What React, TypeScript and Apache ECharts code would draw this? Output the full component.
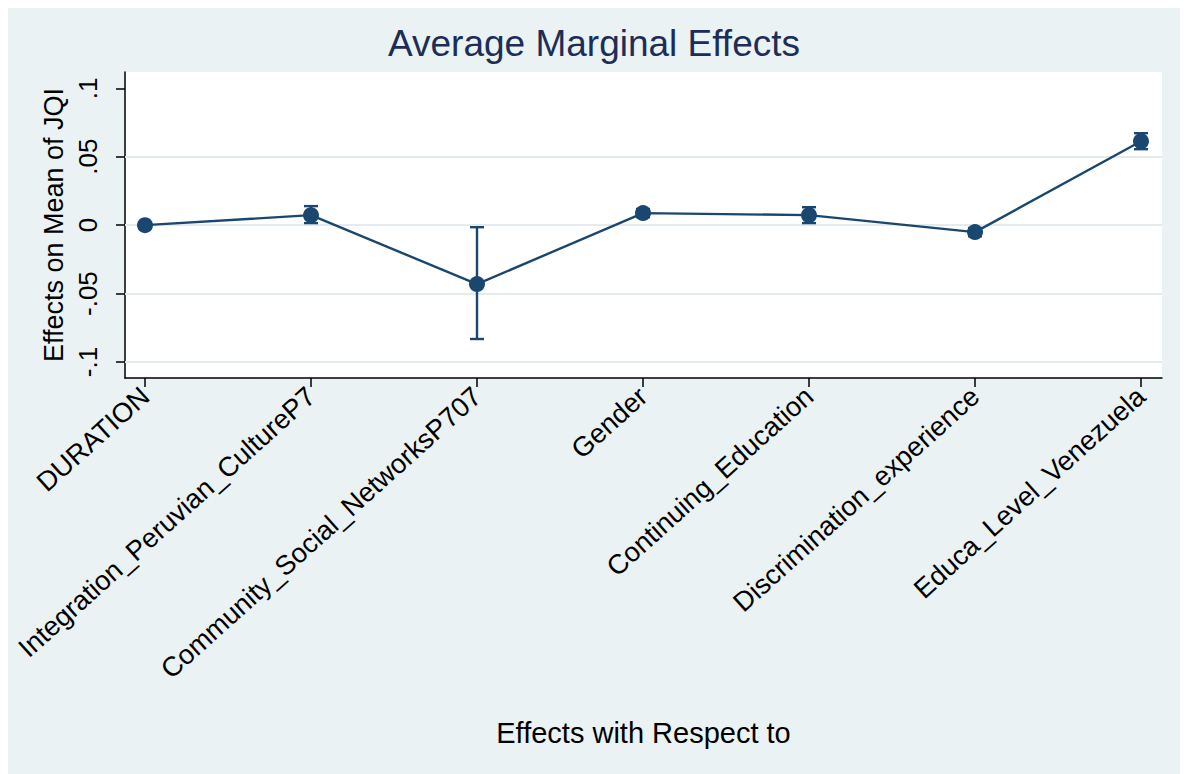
import React, { useEffect, useRef } from "react";
import * as echarts from "echarts";

const categories = [
  "DURATION",
  "Integration_Peruvian_CultureP7",
  "Community_Social_NetworksP707",
  "Gender",
  "Continuing_Education",
  "Discrimination_experience",
  "Educa_Level_Venezuela",
];
const effects = [0.0, 0.0073, -0.0431, 0.0088, 0.0073, -0.0051, 0.0613];
const ciLower = [-0.0005, 0.0015, -0.0832, 0.0058, 0.0015, -0.0081, 0.0555];
const ciUpper = [0.0005, 0.0139, -0.0015, 0.0118, 0.0131, -0.0021, 0.0672];
const yTicks = [-0.1, -0.05, 0, 0.05, 0.1];
const yGridLines = [-0.1, -0.05, 0, 0.05];
const xPositions = [1, 2, 3, 4, 5, 6, 7];

const NAVY = "#1a476f";
const FONT = "'Liberation Sans', Arial, sans-serif";

function fmtY(v: number): string {
  if (Math.abs(v) < 1e-9) return "0";
  const s = String(Math.abs(Math.round(v * 1000) / 1000)).replace(/^0/, "");
  return (v < 0 ? "-" : "") + s;
}

export default function App() {
  const ref = useRef<HTMLDivElement>(null);
  useEffect(() => {
    if (!ref.current) return;
    const chart = echarts.init(ref.current, undefined, { renderer: "svg" });
    const pointData = xPositions.map((x, i) => [x, effects[i]]);
    const ciData = xPositions.map((x, i) => [x, ciLower[i], ciUpper[i]]);
    chart.setOption({
      animation: false,
      backgroundColor: "#eaf2f3",
      title: {
        text: "Average Marginal Effects",
        left: "center",
        top: 12,
        textStyle: { fontFamily: FONT, fontSize: 37, fontWeight: "normal", color: "#1c2d58" },
      },
      grid: {
        left: 117,
        top: 64,
        right: 18,
        bottom: 396,
        show: true,
        backgroundColor: "#ffffff",
        borderWidth: 0,
        containLabel: false,
        outerBoundsMode: "none",
      },
      xAxis: {
        type: "value",
        min: 0.8795,
        max: 7.1265,
        name: "Effects with Respect to",
        nameLocation: "middle",
        nameGap: 340,
        nameTextStyle: { fontFamily: FONT, fontSize: 29, color: "#000" },
        axisLine: { show: true, onZero: false, lineStyle: { color: "#000", width: 1.5 } },
        axisTick: { show: true, length: 9, customValues: xPositions, lineStyle: { color: "#000", width: 1.5 } },
        axisLabel: {
          customValues: xPositions,
          rotate: 42,
          margin: 14,
          fontFamily: FONT,
          fontSize: 27.3,
          color: "#000",
          formatter: (v: number) => categories[Math.round(v) - 1] ?? "",
        },
        splitLine: { show: false },
      },
      yAxis: {
        type: "value",
        min: -0.1117,
        max: 0.1119,
        name: "Effects on Mean of JQI",
        nameLocation: "middle",
        nameRotate: 90,
        nameGap: 56,
        nameTextStyle: { fontFamily: FONT, fontSize: 27, color: "#000" },
        axisLine: { show: true, onZero: false, lineStyle: { color: "#000", width: 1.5 } },
        axisTick: { show: true, length: 9, customValues: yTicks, lineStyle: { color: "#000", width: 1.5 } },
        axisLabel: {
          customValues: yTicks,
          rotate: 90,
          margin: 24,
          fontFamily: FONT,
          fontSize: 26,
          color: "#000",
          formatter: (v: number) => fmtY(v),
        },
        splitLine: { show: false },
      },
      series: [
        {
          type: "line",
          data: pointData,
          symbol: "none",
          lineStyle: { color: NAVY, width: 2.4 },
          markLine: {
            silent: true,
            symbol: "none",
            label: { show: false },
            lineStyle: { color: "#e3ebef", width: 2, type: "solid" },
            data: yGridLines.map((v) => ({ yAxis: v })),
            z: 1,
          },
          z: 3,
        },
        {
          type: "custom",
          data: ciData,
          z: 4,
          renderItem: (params: any, api: any) => {
            const x = api.value(0);
            const lo = api.coord([x, api.value(1)]);
            const hi = api.coord([x, api.value(2)]);
            const w = 7;
            const style = { stroke: NAVY, lineWidth: 2.4 };
            return {
              type: "group",
              children: [
                { type: "line", shape: { x1: hi[0], y1: hi[1], x2: lo[0], y2: lo[1] }, style },
                { type: "line", shape: { x1: hi[0] - w, y1: hi[1], x2: hi[0] + w, y2: hi[1] }, style },
                { type: "line", shape: { x1: lo[0] - w, y1: lo[1], x2: lo[0] + w, y2: lo[1] }, style },
              ],
            };
          },
        },
        {
          type: "scatter",
          data: pointData,
          symbol: "circle",
          symbolSize: 16,
          itemStyle: { color: NAVY, opacity: 1 },
          z: 5,
        },
      ],
    });
    return () => chart.dispose();
  }, []);
  return <div ref={ref} style={{ width: 1172, height: 766 }} />;
}
